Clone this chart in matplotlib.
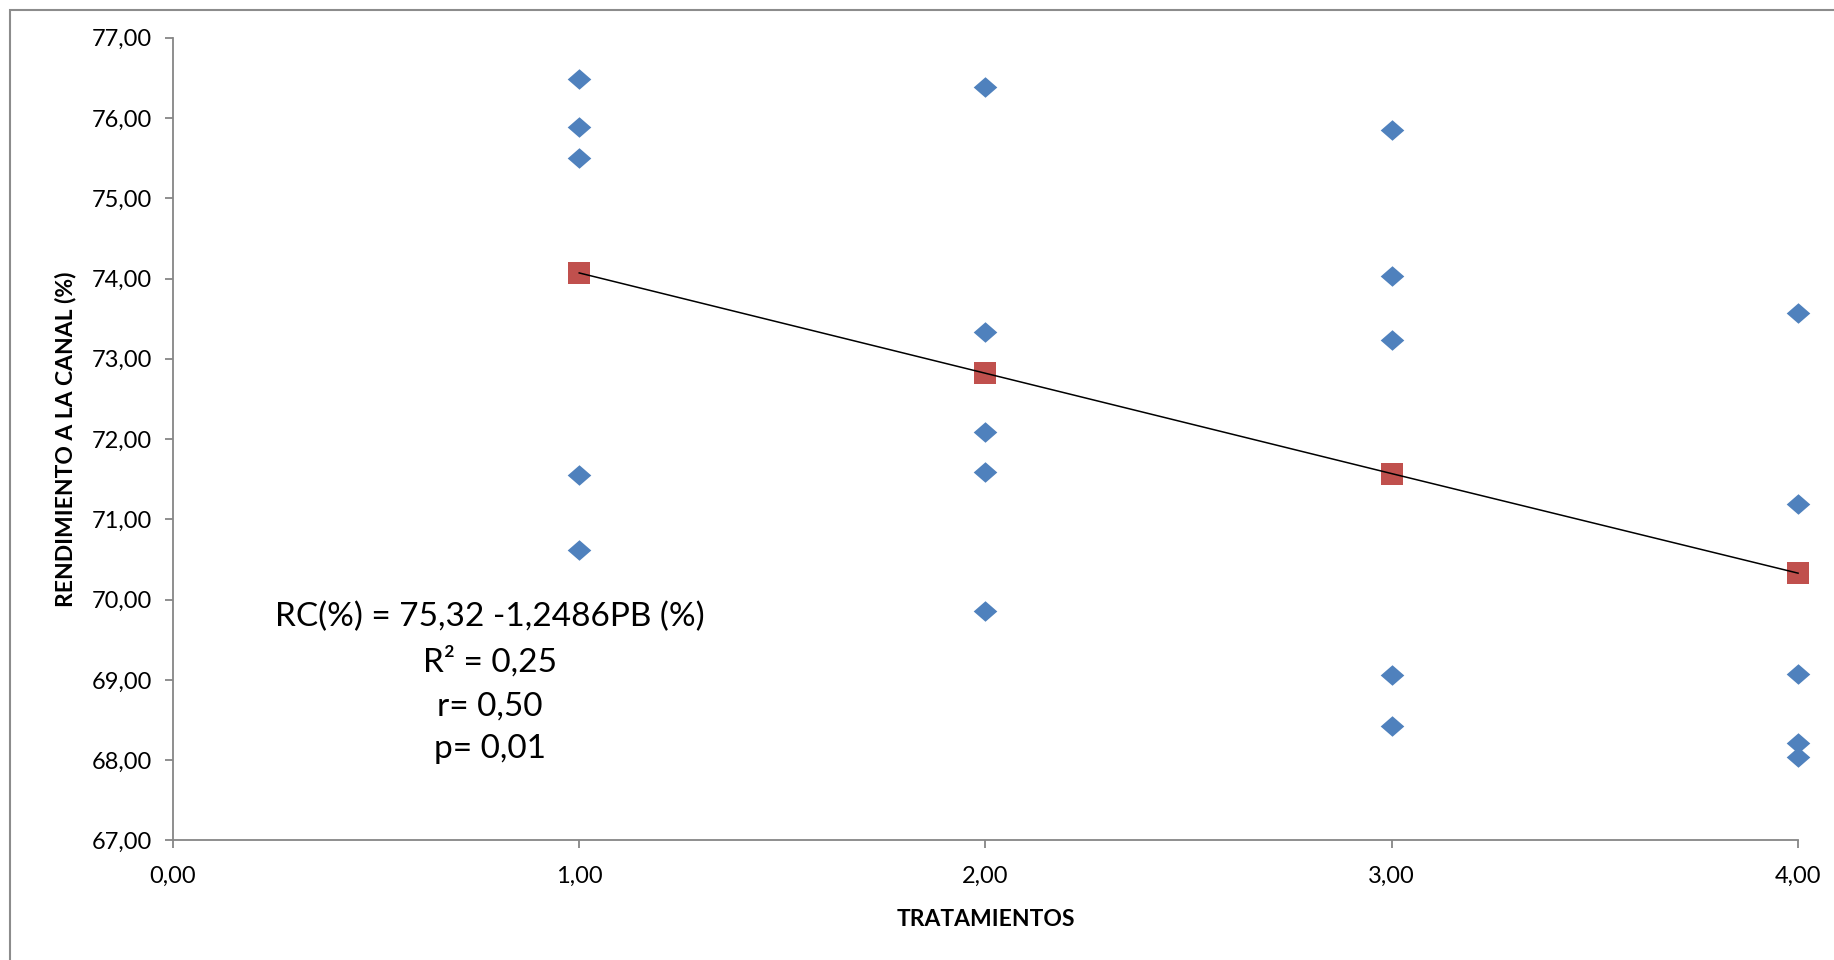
import matplotlib
matplotlib.use("Agg")
import matplotlib.pyplot as plt
from matplotlib.patches import Rectangle
from matplotlib.ticker import FuncFormatter, MultipleLocator

# observed carcass yield per treatment
tratamientos = [1, 1, 1, 1, 1, 2, 2, 2, 2, 2, 3, 3, 3, 3, 3, 4, 4, 4, 4, 4]
rendimiento = [76.49, 75.89, 75.50, 71.55, 70.62,
               76.39, 73.33, 72.09, 71.59, 69.86,
               75.85, 74.03, 73.23, 69.06, 68.43,
               73.57, 71.19, 69.07, 68.21, 68.04]

# fitted values (red squares, joined by trend line)
trat_ajuste = [1, 2, 3, 4]
rend_ajuste = [74.07, 72.82, 71.57, 70.33]

ecuacion = "RC(%) = 75,32 -1,2486PB (%)\nR² = 0,25\nr= 0,50\np= 0,01"

AXIS_GRAY = "#868686"


def coma(v, pos):
    return f"{v:.2f}".replace(".", ",")


def plot_rendimiento():
    plt.rcParams["font.family"] = ["Lato", "DejaVu Sans"]
    fig = plt.figure(figsize=(18.34, 9.6), dpi=100)
    ax = fig.add_axes([0.0943, 0.1245, 0.8861, 0.8362])

    diamante = [(-1, 0), (0, 0.87), (1, 0), (0, -0.87), (-1, 0)]
    ax.plot(tratamientos, rendimiento, linestyle="none", marker=diamante,
            markersize=17, color="#4F81BD", markeredgewidth=0, zorder=3,
            clip_on=False)
    ax.plot(trat_ajuste, rend_ajuste, color="black", linewidth=1.1, zorder=2,
            clip_on=False)
    ax.plot(trat_ajuste, rend_ajuste, linestyle="none", marker="s",
            markersize=15.5, color="#C0504D", markeredgewidth=0, zorder=1,
            clip_on=False)

    ax.set_xlim(0, 4)
    ax.set_ylim(67, 77)
    ax.xaxis.set_major_locator(MultipleLocator(1))
    ax.yaxis.set_major_locator(MultipleLocator(1))
    ax.xaxis.set_major_formatter(FuncFormatter(coma))
    ax.yaxis.set_major_formatter(FuncFormatter(coma))

    for side in ("top", "right"):
        ax.spines[side].set_visible(False)
    for side in ("left", "bottom"):
        ax.spines[side].set_color(AXIS_GRAY)
        ax.spines[side].set_linewidth(1.3)
    ax.tick_params(axis="both", colors=AXIS_GRAY, labelcolor="black",
                   labelsize=17, length=6, width=1.3)
    ax.tick_params(axis="y", pad=9)
    ax.tick_params(axis="x", pad=12)

    ax.set_xlabel("TRATAMIENTOS", fontsize=16.5, fontweight="bold", labelpad=16)
    ax.set_ylabel("RENDIMIENTO A LA CANAL (%)", fontsize=16.5, fontweight="bold",
                  labelpad=11)

    ax.text(0.78, 68.96, ecuacion, ha="center", va="center", fontsize=24,
            linespacing=1.55)

    # chart area border (cut by the picture edges on the right and bottom)
    fig.add_artist(Rectangle((9.5 / 1834, -0.1), 1.2, 1.1 - 10 / 960,
                             transform=fig.transFigure, fill=False,
                             edgecolor="#8c8c8c", linewidth=1.5))

    fig.savefig("out.png", dpi=100)


if __name__ == "__main__":
    plot_rendimiento()
